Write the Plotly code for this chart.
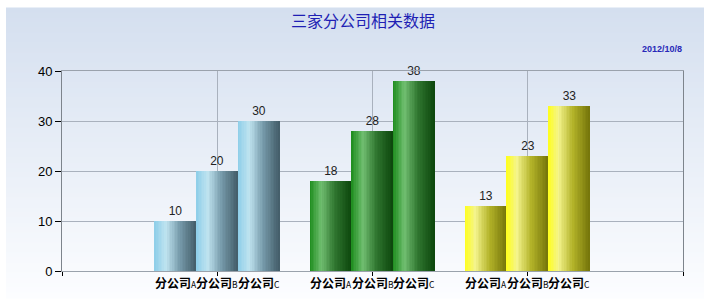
import plotly.graph_objects as go

# ---- data ----
groups = ["第一组", "第二组", "第三组"]
companies = ["A", "B", "C"]
values_by_group = [
    [10, 20, 30],
    [18, 28, 38],
    [13, 23, 33],
]
y_ticks = [0, 10, 20, 30, 40]
title_text = "三家分公司相关数据"
date_text = "2012/10/8"

# cylinder-like shading per group: (position, rgb) stops across the bar width
group_shades = [
    [(0.0, (140, 205, 232)), (0.28, (192, 228, 240)), (0.6, (120, 156, 172)), (1.0, (66, 92, 104))],
    [(0.0, (28, 140, 28)), (0.28, (112, 190, 112)), (0.6, (48, 118, 48)), (1.0, (12, 70, 12))],
    [(0.0, (255, 255, 26)), (0.25, (244, 244, 140)), (0.6, (178, 178, 40)), (1.0, (116, 116, 10))],
]

BAR_W = 0.268      # width of one bar in category units
STRIPES = 26       # vertical strips used to fake the horizontal gradient


def shade(stops, t):
    for (p0, c0), (p1, c1) in zip(stops, stops[1:]):
        if p0 <= t <= p1:
            f = (t - p0) / (p1 - p0)
            return "rgb({},{},{})".format(*[round(a + (b - a) * f) for a, b in zip(c0, c1)])
    return "rgb({},{},{})".format(*stops[-1][1])


fig = go.Figure()
annotations = []
label_font = dict(family="Liberation Sans, Arial", size=12, color="#222222")

for g, vals in enumerate(values_by_group):
    for i, v in enumerate(vals):
        center = g + (i - 1) * BAR_W
        left = center - BAR_W / 2
        sw = BAR_W / STRIPES
        xs = [left + (k + 0.5) * sw for k in range(STRIPES)]
        cols = [shade(group_shades[g], (k + 0.5) / STRIPES) for k in range(STRIPES)]
        fig.add_trace(go.Bar(
            x=xs, y=[v] * STRIPES, width=[sw * 1.04] * STRIPES,
            marker=dict(color=cols, line=dict(width=0)),
            hoverinfo="skip", showlegend=False,
        ))
        # value label carried by a transparent bar of the real size
        fig.add_trace(go.Bar(
            x=[center], y=[v], width=[BAR_W],
            marker=dict(color="rgba(0,0,0,0)", line=dict(width=0)),
            text=[str(v)], textposition="outside", cliponaxis=False,
            textfont=label_font, outsidetextfont=label_font,
            showlegend=False, name="分公司" + companies[i],
        ))
        annotations.append(dict(
            x=center, y=0, xref="x", yref="y", yanchor="top", yshift=-1,
            text="<b>分公司</b><span style='font-size:8.5px'>" + companies[i] + "</span>",
            showarrow=False,
            font=dict(family="Noto Sans CJK SC", size=12, color="#000000"),
        ))

annotations.append(dict(
    x=0.966, y=1.11, xref="paper", yref="paper", xanchor="center", yanchor="middle",
    text="<b>" + date_text + "</b>",
    showarrow=False, font=dict(family="Liberation Sans Narrow, Liberation Sans", size=9, color="#2828b8"),
))

# soft vertical background panel behind the whole chart
shapes = []
L, R, T, B = 62, 683, 71, 271
px0, px1, py0, py1 = 6, 704, 8, 298
n_strips = 58
top_c, bot_c = (212, 223, 239), (252, 253, 255)
for k in range(n_strips):
    ya = py0 + (py1 - py0) * k / n_strips
    yb = py0 + (py1 - py0) * (k + 1) / n_strips
    f = (k + 0.5) / n_strips
    c = tuple(round(a + (b - a) * f) for a, b in zip(top_c, bot_c))
    shapes.append(dict(
        type="rect", xref="paper", yref="paper", layer="below",
        x0=(px0 - L) / (R - L), x1=(px1 - L) / (R - L),
        y0=(B - yb - 0.5) / (B - T), y1=(B - ya + 0.5) / (B - T),
        fillcolor="rgb({},{},{})".format(*c), line=dict(width=0),
    ))

fig.update_layout(
    width=726, height=306,
    margin=dict(l=L, r=726 - R, t=T, b=306 - B),
    paper_bgcolor="white", plot_bgcolor="rgba(0,0,0,0)",
    barmode="overlay", bargap=0,
    title=dict(text=title_text, x=0.5, xanchor="center", y=1 - 21 / 306, yanchor="middle",
               font=dict(family="Noto Sans CJK SC", size=16, color="#1f1fb4")),
    annotations=annotations, shapes=shapes,
    xaxis=dict(range=[-1, 3], tickvals=[-1, 0, 1, 2, 3], ticktext=[""] * 5,
               showgrid=True, gridcolor="#a9b1bd", gridwidth=1,
               showline=True, linecolor="#9aa2ac", mirror=True,
               ticks="outside", ticklen=4, tickcolor="#000000", zeroline=False),
    yaxis=dict(range=[0, 40], tickvals=y_ticks,
               showgrid=True, gridcolor="#a9b1bd", gridwidth=1,
               showline=True, linecolor="#7d848c", mirror=True,
               ticks="outside", ticklen=6, tickcolor="#000000", zeroline=False,
               tickfont=dict(family="Liberation Sans, Arial", size=13, color="#000000")),
)

fig.write_html("out.html")
